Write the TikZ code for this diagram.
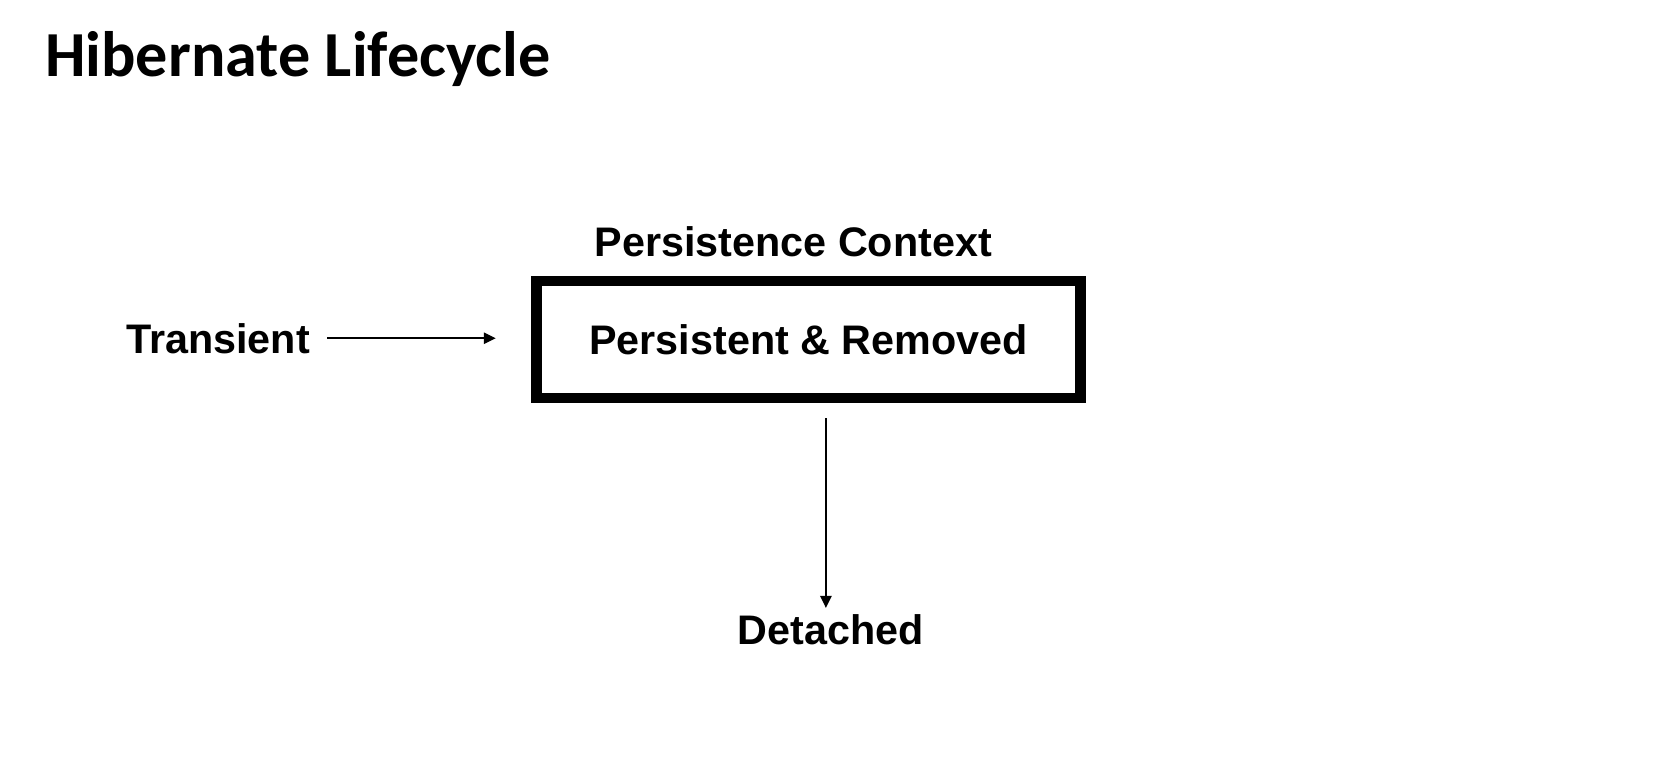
\documentclass[tikz,border=0pt]{standalone}
\usepackage{fontspec}
\setmainfont{Liberation Sans}
\newfontfamily\titlefont{Carlito}
\usetikzlibrary{arrows.meta}
\begin{document}
\begin{tikzpicture}[x=1pt,y=-1pt,
  lbl/.style={font=\fontsize{41.3}{48}\selectfont\bfseries, inner sep=0pt, text=black},
  ttl/.style={font=\titlefont\fontsize{64.2}{72}\selectfont\bfseries, inner sep=0pt, text=black},
  pbox/.style={draw=black, line width=10.6pt, minimum width=543.5pt, minimum height=117pt, inner sep=0pt,
    font=\fontsize{41.3}{48}\selectfont\bfseries},
  arr/.style={-{Triangle[length=12pt,width=11.5pt]}, line width=1.5pt, draw=black}]
\useasboundingbox[fill=white] (0,0) rectangle (1653,756);
\node[ttl, anchor=base west] (title) at (45,76.5) {Hibernate Lifecycle};
\node[pbox] (pr) at (808.5,339.5) {Persistent \& Removed};
\node[lbl, anchor=base] (pc) at (793.4,256) {Persistence Context};
\node[lbl, anchor=base west] (tr) at (126,353) {Transient};
\node[lbl, anchor=base] (de) at (830.9,644) {Detached};
\draw[arr] ([xshift=17pt]tr.east) -- ([xshift=-35.7pt]tr.east -| pr.west);
\draw[arr] ([xshift=-5pt,yshift=-15pt]de.north |- pr.south) -- ([xshift=-5pt,yshift=6pt]de.north);
\end{tikzpicture}
\end{document}
